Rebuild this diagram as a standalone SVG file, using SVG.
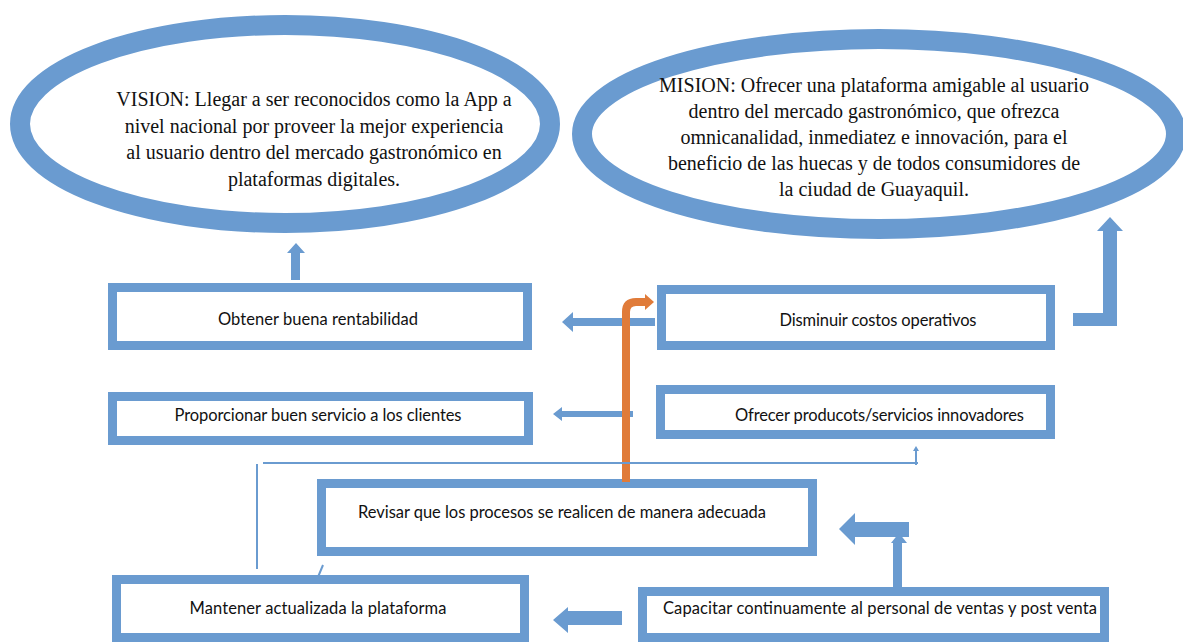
<svg xmlns="http://www.w3.org/2000/svg" width="1183" height="642" viewBox="0 0 1183 642">
<style>
.ring{fill:#fff;stroke:#6A9BD0;stroke-width:20}
.box{fill:#fff;stroke:#6A9BD0;stroke-width:9}
.blk{fill:#6A9BD0}
.thin{fill:none;stroke:#6A9BD0;stroke-width:2}
.serif{font-family:"Liberation Serif","Times New Roman",serif;font-size:20px;fill:#111;text-anchor:middle}
.sans{font-family:Lato,"Open Sans",sans-serif;font-size:16.5px;fill:#111}
.mid{text-anchor:middle}
</style>
<rect width="1183" height="642" fill="#fff"/>
<g id="vision">
<ellipse class="ring" cx="285" cy="124" rx="265" ry="99"/>
<text class="serif" x="314" y="106">VISION: Llegar a ser reconocidos como la App a</text>
<text class="serif" x="314" y="133">nivel nacional por proveer la mejor experiencia</text>
<text class="serif" x="314" y="159">al usuario dentro del mercado gastronómico en</text>
<text class="serif" x="314" y="186">plataformas digitales.</text>
</g>
<g id="mision">
<ellipse class="ring" cx="879" cy="134" rx="297" ry="95"/>
<text class="serif" x="874" y="92">MISION: Ofrecer una plataforma amigable al usuario</text>
<text class="serif" x="874" y="118">dentro del mercado gastronómico, que ofrezca</text>
<text class="serif" x="874" y="144">omnicanalidad, inmediatez e innovación, para el</text>
<text class="serif" x="874" y="170">beneficio de las huecas y de todos consumidores de</text>
<text class="serif" x="874" y="196">la ciudad de Guayaquil.</text>
</g>
<g id="obtener">
<rect class="box" x="112.5" y="287.5" width="415" height="58"/>
<text class="sans mid" x="318" y="325" textLength="200" lengthAdjust="spacing">Obtener buena rentabilidad</text>
</g>
<g id="disminuir">
<rect class="box" x="661.5" y="289.5" width="389" height="56"/>
<text class="sans mid" x="878" y="326" textLength="197" lengthAdjust="spacing">Disminuir costos operativos</text>
</g>
<g id="proporcionar">
<rect class="box" x="112.5" y="396.5" width="416" height="44"/>
<text class="sans mid" x="318" y="421" textLength="287" lengthAdjust="spacing">Proporcionar buen servicio a los clientes</text>
</g>
<g id="ofrecer">
<rect class="box" x="660.5" y="389.5" width="390" height="45"/>
<text class="sans" x="735" y="421" textLength="289" lengthAdjust="spacing">Ofrecer producots/servicios innovadores</text>
</g>
<g id="revisar">
<rect class="box" x="321.5" y="483.5" width="491" height="68"/>
<text class="sans" x="358" y="518" textLength="408" lengthAdjust="spacing">Revisar que los procesos se realicen de manera adecuada</text>
</g>
<g id="mantener">
<rect class="box" x="116.5" y="579.5" width="408" height="58"/>
<text class="sans mid" x="318" y="614" textLength="257" lengthAdjust="spacing">Mantener actualizada la plataforma</text>
</g>
<g id="capacitar">
<rect class="box" x="642.5" y="591.5" width="462" height="46"/>
<text class="sans" x="663" y="614" textLength="434" lengthAdjust="spacing">Capacitar continuamente al personal de ventas y post venta</text>
</g>
<g id="connectors">
<polygon class="blk" points="291,280 291,253 287,253 296,243 305,253 300,253 300,280"/>
<polygon class="blk" points="655,318 573,318 573,312 562,322 573,332 573,326 655,326"/>
<polygon class="blk" points="633,411 562,411 562,407 553,414 562,421 562,417 633,417"/>
<polygon class="blk" points="1073,313 1103,313 1103,231 1097,231 1110,217 1123,231 1117,231 1117,326 1073,326"/>
<polygon class="blk" points="909,522 855,522 855,513 839,529 855,545 855,537 909,537"/>
<polygon class="blk" points="893,587 893,543 891,543 899,533 907,543 902,543 902,587"/>
<polygon class="blk" points="622,611 568,611 568,607 553,620 568,633 568,625 622,625"/>
<path d="M626,482 V312 Q626,302 636,302 H646" fill="none" stroke="#E07B39" stroke-width="8"/>
<polygon points="645,294 654,302 645,310" fill="#E07B39"/>
<path class="thin" d="M263,463 H918"/>
<path class="thin" d="M916,465 V450"/>
<polygon class="blk" points="913,451 916,446 919,451"/>
<path class="thin" d="M257,464 V569"/>
<path class="thin" d="M323,565 L318,577" stroke-width="1.5"/>
</g>
</svg>
